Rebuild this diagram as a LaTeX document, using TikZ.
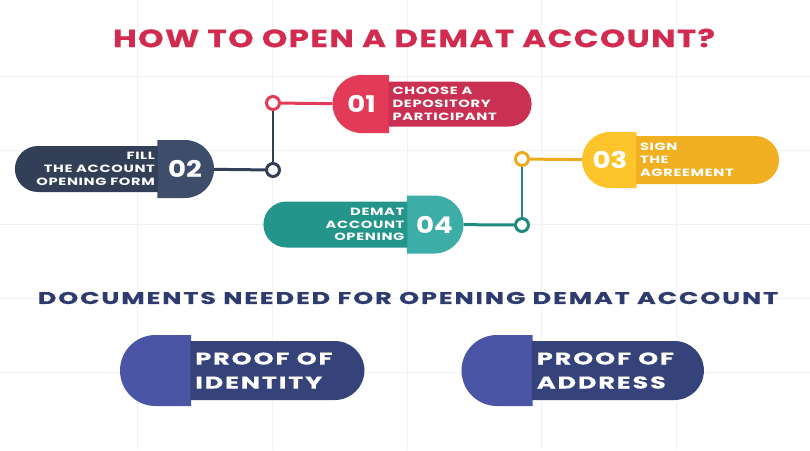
\documentclass[tikz,border=0pt]{standalone}
\usepackage{fontspec}
\setmainfont{Poppins}
\newfontfamily\titlefont{Poppins}[FakeStretch=1.3, LetterSpace=5.5, BoldFeatures={FakeBold=0.4}]
\newfontfamily\labelfont{Poppins}[FakeStretch=1.4, LetterSpace=6]
\newfontfamily\docfont{Poppins}[FakeStretch=1.5, LetterSpace=11, BoldFeatures={FakeBold=0.3}]
\newfontfamily\numfont{Poppins}[FakeStretch=1.2]
\usetikzlibrary{positioning,shapes.misc}

\definecolor{gridgray}{HTML}{F1F1F3}
\definecolor{titlered}{HTML}{D12B50}
\definecolor{redcap}{HTML}{E33A57}
\definecolor{redbody}{HTML}{C93051}
\definecolor{navycap}{HTML}{3E4D69}
\definecolor{navybody}{HTML}{323F57}
\definecolor{goldcap}{HTML}{FDC52B}
\definecolor{goldbody}{HTML}{F0B022}
\definecolor{goldline}{HTML}{EDAA1C}
\definecolor{tealcap}{HTML}{3DADA8}
\definecolor{tealbody}{HTML}{23958A}
\definecolor{tealline}{HTML}{1F8A80}
\definecolor{indigocap}{HTML}{4A55A6}
\definecolor{indigobody}{HTML}{36437A}
\definecolor{docnavy}{HTML}{2E3B6E}

\begin{document}
\begin{tikzpicture}[
  x=1pt, y=-1pt,
  font=\bfseries,
  gridline/.style={draw=gridgray, line width=0.8pt},
  pillcap/.style={
    rounded rectangle, inner sep=0pt,
    minimum height=58pt, minimum width=53pt,
    text=white, font=\numfont\bfseries\fontsize{23}{23}\selectfont
  },
  capL/.style={pillcap, rounded rectangle east arc=none},
  capR/.style={pillcap, rounded rectangle west arc=none},
  pillbody/.style={
    rounded rectangle, inner sep=0pt,
    minimum height=46pt, minimum width=143pt
  },
  bodyR/.style={pillbody, rounded rectangle west arc=none},
  bodyL/.style={pillbody, rounded rectangle east arc=none},
  steptxt/.style={
    text=white, inner sep=0pt,
    font=\labelfont\bfseries\fontsize{10.5}{12.8}\selectfont
  },
  doctxt/.style={
    text=white, inner sep=0pt, align=left,
    font=\docfont\bfseries\fontsize{17}{24}\selectfont
  },
  dot/.style={
    circle, draw=#1, line width=3pt, fill=white,
    minimum size=13pt, inner sep=0pt
  },
  link/.style={draw=#1, line width=3pt}
]

\useasboundingbox (0,0) rectangle (810,450);
\fill[white] (0,0) rectangle (810,450);

% faint background grid
\foreach \x in {137,272,407,541,676}
  \draw[gridline] (\x,0) -- (\x,450);
\foreach \y in {76,150,224,298,372}
  \draw[gridline] (0,\y) -- (810,\y);

\node[text=titlered, font=\titlefont\bfseries\fontsize{25}{25}\selectfont]
  (title) at (414,38) {HOW TO OPEN A DEMAT ACCOUNT?};

% step 01
\node[capL, fill=redcap] (c1) at (361.5,104) {01};
\node[bodyR, fill=redbody, minimum height=45pt, right=-1pt of c1] (b1) {};
\node[steptxt, align=left, anchor=west] (t1) at ([xshift=4pt]b1.west)
  {CHOOSE A\\DEPOSITORY\\PARTICIPANT};

% step 02
\node[capR, fill=navycap] (c2) at (185,169) {02};
\node[bodyL, fill=navybody, left=-1pt of c2] (b2) {};
\node[steptxt, align=right, anchor=east] (t2) at ([xshift=-3pt]b2.east)
  {FILL\\THE ACCOUNT\\OPENING FORM};

% step 03
\node[capL, fill=goldcap, minimum height=56pt, minimum width=54pt] (c3) at (610,160) {03};
\node[bodyR, fill=goldbody, minimum height=48pt, right=-1pt of c3] (b3) {};
\node[steptxt, align=left, anchor=west] (t3) at ([xshift=4pt]b3.west)
  {SIGN\\THE\\AGREEMENT};

% step 04
\node[capR, fill=tealcap] (c4) at (434.5,224.5) {04};
\node[bodyL, fill=tealbody, minimum width=144pt, left=-1pt of c4] (b4) {};
\node[steptxt, align=right, anchor=east] (t4) at ([xshift=-3pt]b4.east)
  {DEMAT\\ACCOUNT\\OPENING};

% markers and links
\node[dot=redcap] (m1) at (273,103) {};
\node[dot=navybody] (m2) at (273,170) {};
\node[dot=goldline] (m3) at (522,159) {};
\node[dot=tealline] (m4) at (522,225) {};

\draw[link=redcap] (m1) -- (c1);
\draw[link=navybody, line width=2.5pt] (m1) -- (m2);
\draw[link=navybody] (c2) -- (m2);
\draw[link=goldline] (m3) -- (c3);
\draw[link=tealline, line width=2.5pt] (m3) -- (m4);
\draw[link=tealline] (c4) -- (m4);

\node[text=docnavy, font=\docfont\bfseries\fontsize{17}{17}\selectfont]
  (docs) at (408,298) {DOCUMENTS NEEDED FOR OPENING DEMAT ACCOUNT};

% documents
\node[capL, fill=indigocap, minimum height=71pt, minimum width=67pt] (d1) at (155.5,370.5) {};
\node[bodyR, fill=indigobody, minimum height=59pt, minimum width=174pt, right=-1pt of d1] (e1) {};
\node[doctxt, anchor=west] (p1) at ([xshift=5pt]e1.west) {PROOF OF\\IDENTITY};

\node[capL, fill=indigocap, minimum height=71pt, minimum width=67pt] (d2) at (497,370.5) {};
\node[bodyR, fill=indigobody, minimum height=59pt, minimum width=172pt, right=-1pt of d2] (e2) {};
\node[doctxt, anchor=west] (p2) at ([xshift=5pt]e2.west) {PROOF OF\\ADDRESS};

\end{tikzpicture}
\end{document}
